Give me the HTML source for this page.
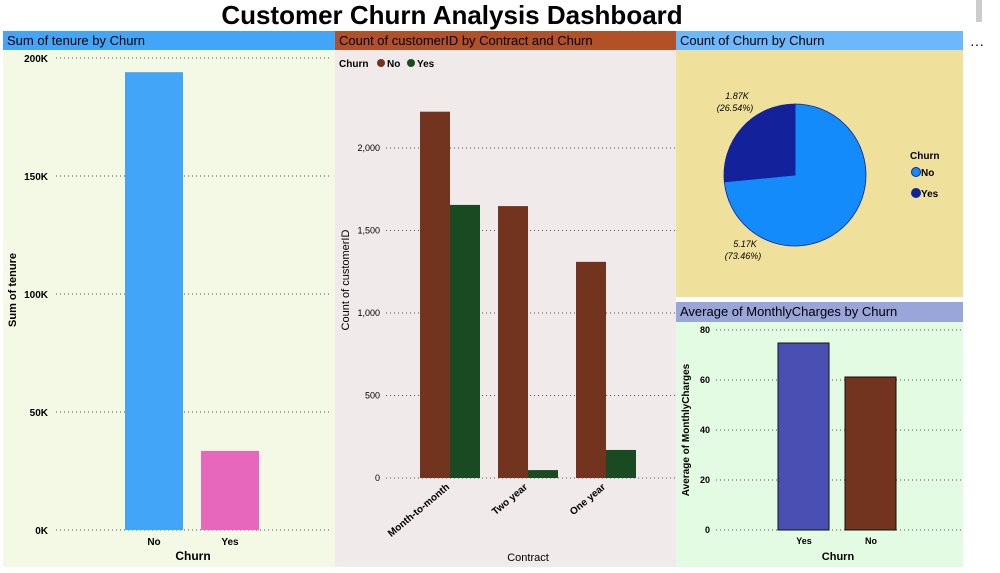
<!DOCTYPE html>
<html><head><meta charset="utf-8"><style>
body{margin:0;width:1000px;height:573px;background:#fff;overflow:hidden;font-family:"Liberation Sans",sans-serif}
svg{display:block}
</style></head><body>
<svg id="s" width="1000" height="573" xmlns="http://www.w3.org/2000/svg" font-family="Liberation Sans, sans-serif">
<text x="452" y="24" font-size="26" font-weight="bold" text-anchor="middle">Customer Churn Analysis Dashboard</text>
<rect x="976" y="0" width="6" height="22" fill="#ccc"/>
<text x="970" y="49" font-size="14">···</text>
<rect x="3" y="50" width="332" height="517" fill="#f3f9e4"/>
<rect x="3" y="31" width="332" height="19" fill="#42a5f8"/>
<text x="7" y="45" font-size="13">Sum of tenure by Churn</text>
<rect x="335" y="50" width="341" height="517" fill="#f1eaea"/>
<rect x="335" y="31" width="341" height="19" fill="#b25028"/>
<text x="339" y="45" font-size="13">Count of customerID by Contract and Churn</text>
<rect x="676" y="50" width="287" height="247" fill="#efe09c"/>
<rect x="676" y="31" width="287" height="19" fill="#6cb8fb"/>
<text x="680" y="45" font-size="13">Count of Churn by Churn</text>
<rect x="676" y="322" width="287" height="245" fill="#e2fbe2"/>
<rect x="676" y="302" width="287" height="20" fill="#9aa5d9"/>
<text x="680" y="316" font-size="13">Average of MonthlyCharges by Churn</text>
<g id="g"></g>
</svg>
<script>
const tenureCats=["No","Yes"];
const tenureVals=[194000,33500];
const tenureTicks=[0,50000,100000,150000,200000];
const tenureTickLabels=["0K","50K","100K","150K","200K"];
const contractCats=["Month-to-month","Two year","One year"];
const contractNo=[2220,1648,1310];
const contractYes=[1655,48,170];
const contractTicks=[0,500,1000,1500,2000];
const contractTickLabels=["0","500","1,000","1,500","2,000"];
const pieCats=["No","Yes"];
const pieVals=[5174,1869];
const pieLabels=["5.17K","1.87K"];
const chargeCats=["Yes","No"];
const chargeVals=[74.8,61.2];
const chargeTicks=[0,20,40,60,80];

const NS="http://www.w3.org/2000/svg";
const g=document.getElementById('g');
function el(t,a,txt){const e=document.createElementNS(NS,t);for(const k in a)e.setAttribute(k,a[k]);if(txt!=null)e.textContent=txt;g.appendChild(e);return e;}

const y1=v=>530-v/200000*472;
tenureTicks.forEach((t,i)=>{
 const l=el('line',{x1:56,x2:330,y1:y1(t),y2:y1(t),stroke:'#555','stroke-dasharray':'1 3'});
 
 const tx=el('text',{x:48,y:y1(t)+4,'font-size':10,'font-weight':'bold','text-anchor':'end'},tenureTickLabels[i]);
 
});
const c1=['#42a5f8','#e667bb'];
tenureCats.forEach((c,i)=>{
 const x=125+i*76;
 const r=el('rect',{x:x,y:y1(tenureVals[i]),width:58,height:530-y1(tenureVals[i]),fill:c1[i]});
 
 const t=el('text',{x:x+29,y:545,'font-size':10,'font-weight':'bold','text-anchor':'middle'},c);
 
});
let t1=el('text',{x:193,y:560,'font-size':12,'font-weight':'bold','text-anchor':'middle'},'Churn');

t1=el('text',{x:0,y:0,'font-size':11,'font-weight':'bold','text-anchor':'middle',transform:'translate(16,290) rotate(-90)'},'Sum of tenure');


const y2=v=>478-v/2000*330;
contractTicks.forEach((t,i)=>{
 const l=el('line',{x1:386,x2:675,y1:y2(t),y2:y2(t),stroke:'#555','stroke-dasharray':'1 3'});
 
 const tx=el('text',{x:380,y:y2(t)+3,'font-size':9,'text-anchor':'end'},contractTickLabels[i]);
 
});
contractCats.forEach((c,i)=>{
 const x=420+i*78;
 const a=el('rect',{x:x,y:y2(contractNo[i]),width:30,height:478-y2(contractNo[i]),fill:'#72341e'});
 
 const b=el('rect',{x:x+30,y:y2(contractYes[i]),width:30,height:478-y2(contractYes[i]),fill:'#1a4a22'});
 
 const t=el('text',{x:0,y:0,'font-size':10,'font-weight':'bold','text-anchor':'end',transform:`translate(${x+30},488) rotate(-40)`},c);
 
});
t1=el('text',{x:528,y:561,'font-size':11,'text-anchor':'middle'},'Contract');

t1=el('text',{x:0,y:0,'font-size':11,'text-anchor':'middle',transform:'translate(349,280) rotate(-90)'},'Count of customerID');

t1=el('text',{x:339,y:67,'font-size':10,'font-weight':'bold'},'Churn');

[['No','#72341e',381],['Yes','#1a4a22',411]].forEach(([n,c,x])=>{
 const d=el('circle',{cx:x,cy:63,r:4,fill:c});
 const t=el('text',{x:x+6,y:67,'font-size':10,'font-weight':'bold'},n);
});

const cx=795,cy=175,R=71;const tot=pieVals.reduce((a,b)=>a+b,0);
const pc=['#138bfb','#13229a'];
let ang=0;
pieVals.forEach((v,i)=>{
 const a0=ang,a1=ang+v/tot*2*Math.PI;ang=a1;
 const p=(a)=>[cx+R*Math.sin(a),cy-R*Math.cos(a)];
 const [x0,y0]=p(a0),[x1,yy1]=p(a1);
 const s=el('path',{d:`M${cx},${cy} L${x0},${y0} A${R},${R} 0 ${a1-a0>Math.PI?1:0} 1 ${x1},${yy1} Z`,fill:pc[i],stroke:'#13229a','stroke-width':0.8});
 
});
[[0,745,247],[1,737,99]].forEach(([i,x,y])=>{
 const t=el('text',{x:x,y:y,'font-size':9,'font-style':'italic','text-anchor':'middle'},pieLabels[i]);
 
 const t2=el('text',{x:x-2,y:y+12,'font-size':9,'font-style':'italic','text-anchor':'middle'},'('+(pieVals[i]/tot*100).toFixed(2)+'%)');
 
});
t1=el('text',{x:910,y:159,'font-size':10,'font-weight':'bold'},'Churn');

pieCats.forEach((n,i)=>{
 const d=el('circle',{cx:916,cy:172+i*21,r:4.5,fill:pc[i],stroke:'#13229a'});
 const t=el('text',{x:921,y:176+i*21,'font-size':10,'font-weight':'bold'},n);
});

const y4=v=>530-v/80*200;
chargeTicks.forEach(t=>{
 const l=el('line',{x1:716,x2:962,y1:y4(t),y2:y4(t),stroke:'#555','stroke-dasharray':'1 3'});
 
 const tx=el('text',{x:710,y:y4(t)+3,'font-size':9,'font-weight':'bold','text-anchor':'end'},t);
 
});
const c4=['#4a4fb4','#72341e'];
chargeCats.forEach((c,i)=>{
 const x=778+i*67;
 const r=el('rect',{x:x,y:y4(chargeVals[i]),width:51,height:530-y4(chargeVals[i]),fill:c4[i],stroke:'#111','stroke-width':1});
 
 const t=el('text',{x:x+26,y:544,'font-size':9,'font-weight':'bold','text-anchor':'middle'},c);
 
});
t1=el('text',{x:838,y:560,'font-size':11,'font-weight':'bold','text-anchor':'middle'},'Churn');

t1=el('text',{x:0,y:0,'font-size':10,'font-weight':'bold','text-anchor':'middle',transform:'translate(689,430) rotate(-90)'},'Average of MonthlyCharges');

</script>
</body></html>
